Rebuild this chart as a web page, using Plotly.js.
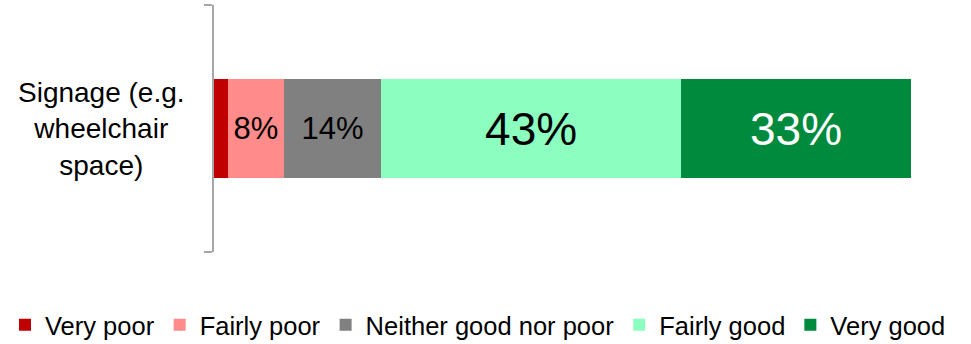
<!DOCTYPE html>
<html>
<head>
<meta charset="utf-8">
<script src="https://cdn.plot.ly/plotly-3.0.1.min.js"></script>
<style>html,body{margin:0;padding:0;background:#fff;}#chart{width:971px;height:344px;}</style>
</head>
<body>
<div id="chart"></div>
<script>
var category = ["Signage (e.g. wheelchair space)"];
var categoryLabel = "Signage (e.g.<br>wheelchair<br>space)";
var seriesNames = ["Very poor", "Fairly poor", "Neither good nor poor", "Fairly good", "Very good"];
var veryPoor = [2];
var fairlyPoor = [8];
var neither = [14];
var fairlyGood = [43];
var veryGood = [33];
var seriesValues = [veryPoor, fairlyPoor, neither, fairlyGood, veryGood];
var seriesLabels = [[""], ["8%"], ["14%"], ["43%"], ["33%"]];
var seriesColors = ["#C00000", "#FF8B8B", "#808080", "#8CFFC0", "#008A3E"];
var labelColors = ["#000000", "#000000", "#000000", "#000000", "#FFFFFF"];
var labelSizes = [30, 31, 31, 46, 46];

var font = "Liberation Sans, Arial, sans-serif";
var traces = seriesNames.map(function (name, i) {
  return {
    type: "bar",
    orientation: "h",
    name: name,
    y: category,
    x: seriesValues[i],
    text: seriesLabels[i],
    textposition: "inside",
    insidetextanchor: "middle",
    constraintext: "none",
    textfont: { family: font, size: labelSizes[i], color: labelColors[i] },
    marker: { color: seriesColors[i], line: { width: 0 } },
    width: 0.4,
    hoverinfo: "none"
  };
});

var W = 971, ML = 214, MR = 0;
var gsW = W - ML - MR;            // 757
var plotRight = 911;
var domainEnd = (plotRight - ML) / gsW;

var layout = {
  width: 971,
  height: 344,
  margin: { l: ML, r: MR, t: 5, b: 92, autoexpand: false },
  barmode: "stack",
  showlegend: true,
  paper_bgcolor: "#ffffff",
  plot_bgcolor: "#ffffff",
  font: { family: font, color: "#000000" },
  xaxis: {
    domain: [0, domainEnd],
    range: [0, 100],
    visible: false,
    fixedrange: true
  },
  yaxis: {
    type: "category",
    range: [-0.5, 0.5],
    showline: true,
    linecolor: "#A6A6A6",
    linewidth: 2,
    ticks: "outside",
    tickson: "boundaries",
    ticklen: 8,
    tickwidth: 2,
    tickcolor: "#A6A6A6",
    showticklabels: false,
    showgrid: false,
    zeroline: false,
    fixedrange: true
  },
  legend: {
    orientation: "h",
    x: (5 - ML) / gsW,
    xanchor: "left",
    y: -0.296,
    yanchor: "middle",
    font: { family: font, size: 25.5, color: "#000000" },
    traceorder: "normal",
    itemclick: false
  },
  annotations: [{
    xref: "paper",
    yref: "y",
    x: (101 - ML) / gsW,
    y: category[0],
    xanchor: "center",
    yanchor: "middle",
    align: "center",
    text: categoryLabel,
    showarrow: false,
    font: { family: font, size: 28, color: "#000000" }
  }]
};

Plotly.newPlot("chart", traces, layout, { displayModeBar: false, staticPlot: true });
</script>
</body>
</html>
